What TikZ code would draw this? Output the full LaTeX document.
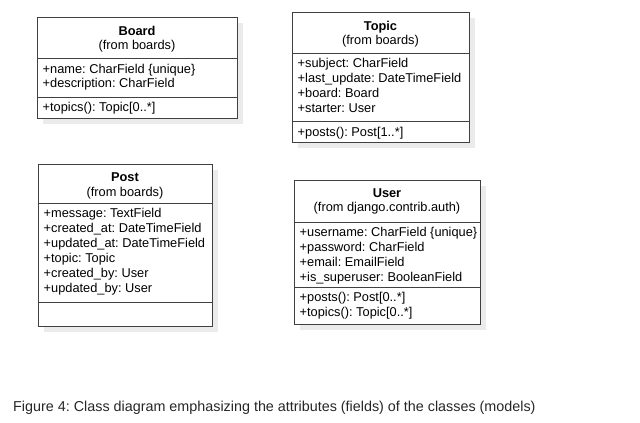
\documentclass[tikz,border=0pt]{standalone}
\usepackage{fontspec}
\setmainfont{Liberation Sans}
\usetikzlibrary{shadows}
\frenchspacing

\begin{document}
\begin{tikzpicture}[x=1pt,y=-1pt,
  classbox/.style={draw=black!75,line width=0.9pt,fill=white,anchor=north west,inner sep=0pt,
    drop shadow={shadow xshift=6pt,shadow yshift=-6pt,fill=black!8,opacity=1}},
  title/.style={font=\fontsize{12.8}{15}\selectfont\bfseries,anchor=base,inner sep=0pt},
  pkg/.style={font=\fontsize{12.8}{15}\selectfont,anchor=base,inner sep=0pt},
  field/.style={font=\fontsize{12.8}{15}\selectfont,anchor=base west,inner sep=0pt},
  sep/.style={draw=black!75,line width=0.9pt}]
  \useasboundingbox (0,0) rectangle (640,423);

  % Board
  \node[classbox,minimum width=200pt,minimum height=101pt] (board) at (37,17) {};
  \node[title] (board-name) at (137,35) {Board};
  \node[pkg] (board-pkg) at (137,49) {(from boards)};
  \draw[sep] (37,58) -- (237,58);
  \draw[sep] (37,97) -- (237,97);
  \foreach \t [count=\i] in {+name: CharField \{unique\}, +description: CharField}
    \node[field] (board-f\i) at (42.5,58.5+14.5*\i) {\t};
  \node[field] (board-m1) at (42.5,111) {+topics(): Topic[0..*]};

  % Topic
  \node[classbox,minimum width=177pt,minimum height=130pt] (topic) at (292,12) {};
  \node[title] (topic-name) at (380.5,30) {Topic};
  \node[pkg] (topic-pkg) at (380.5,44) {(from boards)};
  \draw[sep] (292,53) -- (469,53);
  \draw[sep] (292,121) -- (469,121);
  \foreach \t [count=\i] in {+subject: CharField, +last\_update: DateTimeField, +board: Board, +starter: User}
    \node[field] (topic-f\i) at (297.5,52.5+15*\i) {\t};
  \node[field] (topic-m1) at (297.5,136) {+posts(): Post[1..*]};

  % Post
  \node[classbox,minimum width=174pt,minimum height=162pt] (post) at (38,164) {};
  \node[title] (post-name) at (125,181) {Post};
  \node[pkg] (post-pkg) at (125,196) {(from boards)};
  \draw[sep] (38,203) -- (212,203);
  \draw[sep] (38,302) -- (212,302);
  \foreach \t [count=\i] in {+message: TextField, +created\_at: DateTimeField, +updated\_at: DateTimeField, +topic: Topic, +created\_by: User, +updated\_by: User}
    \node[field] (post-f\i) at (43.5,202.5+15*\i) {\t};

  % User
  \node[classbox,minimum width=186pt,minimum height=144pt] (user) at (294,180) {};
  \node[title] (user-name) at (387,197.5) {User};
  \node[pkg] (user-pkg) at (387,211.5) {(from django.contrib.auth)};
  \draw[sep] (294,222) -- (480,222);
  \draw[sep] (294,287) -- (480,287);
  \foreach \t [count=\i] in {+username: CharField \{unique\}, +password: CharField, +email: EmailField, +is\_superuser: BooleanField}
    \node[field] (user-f\i) at (299.5,221+15*\i) {\t};
  \foreach \t [count=\i] in {+posts(): Post[0..*], +topics(): Topic[0..*]}
    \node[field] (user-m\i) at (299.5,286+15*\i) {\t};

  % caption
  \node[font=\fontsize{14.35}{17}\selectfont,text=black!85,anchor=base west,inner sep=0pt] (caption) at (13,411)
    {Figure 4: Class diagram emphasizing the attributes (fields) of the classes (models)};
\end{tikzpicture}
\end{document}
